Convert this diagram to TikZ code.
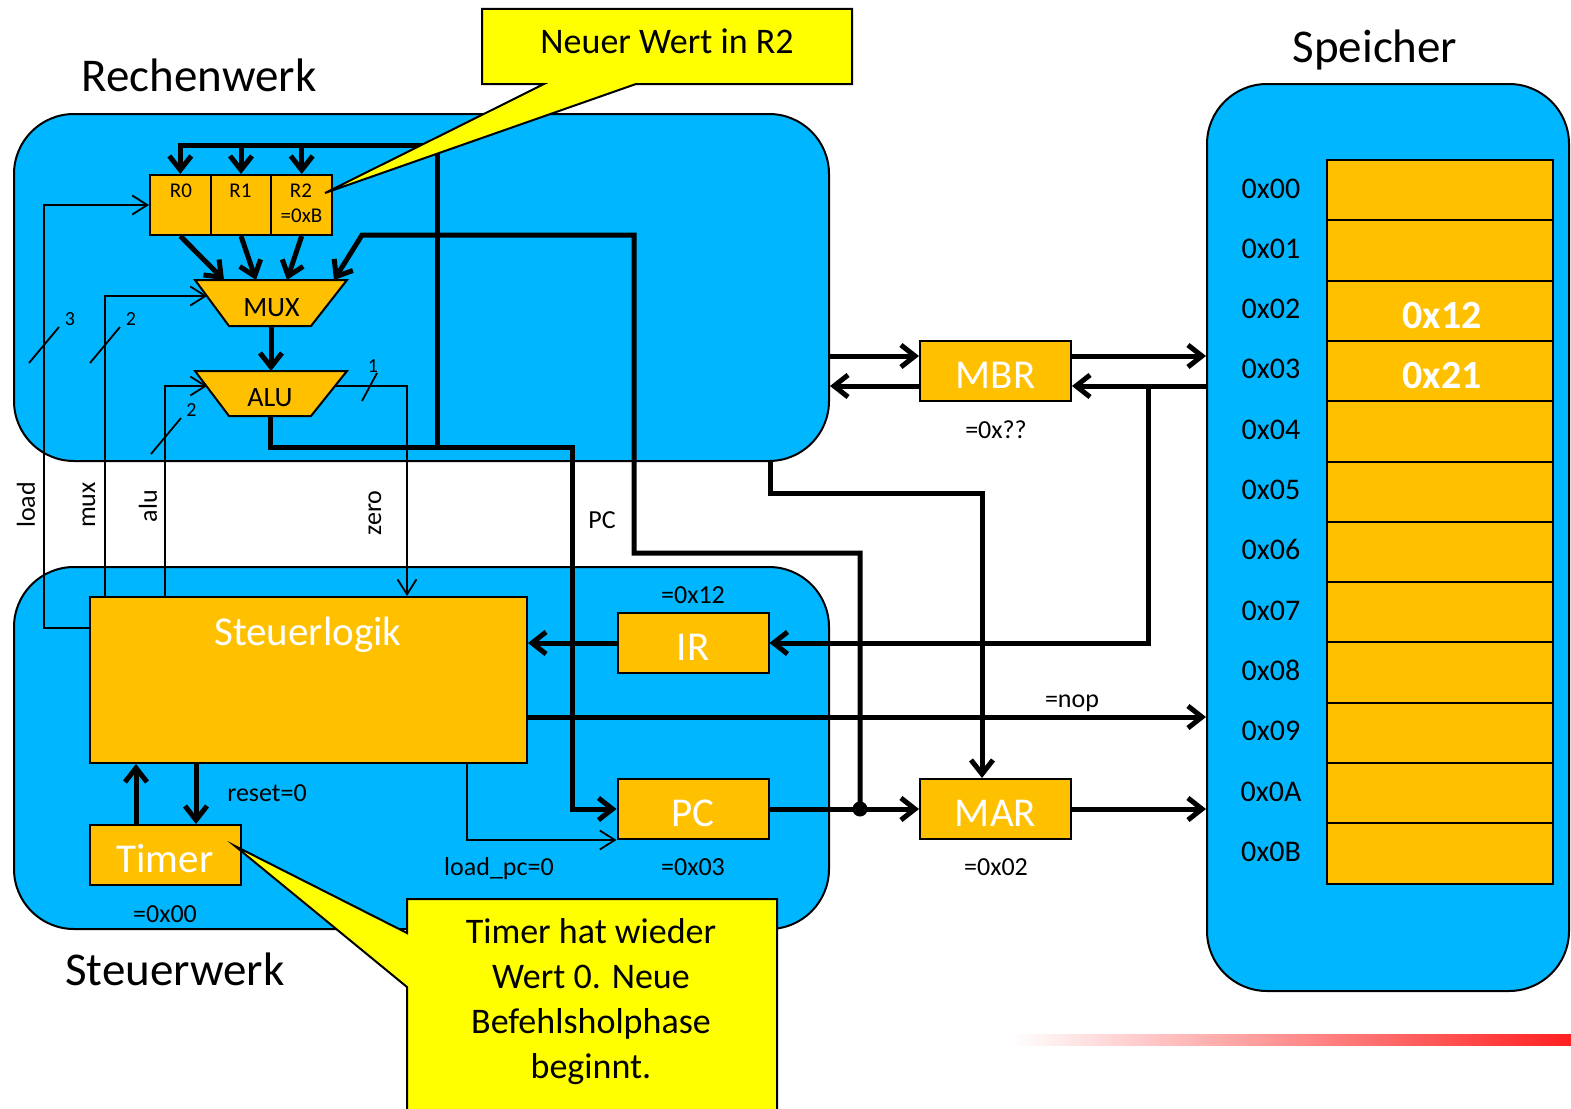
\documentclass[tikz,border=0pt]{standalone}
\usepackage{fontspec}
\setmainfont{Carlito}
\usetikzlibrary{arrows.meta,calc}
\definecolor{BlauWerk}{RGB}{0,183,255}
\definecolor{GoldReg}{RGB}{255,192,0}
\definecolor{GelbNotiz}{RGB}{255,255,0}
\definecolor{RotLinie}{RGB}{255,32,32}
\newcommand{\pxfont}[2]{\fontsize{#1}{#2}\selectfont}

\begin{document}
\begin{tikzpicture}[x=1pt,y=-1pt,>={Straight Barb[length=14pt,width=22pt]},
    werk/.style={draw=black,line width=2pt,fill=BlauWerk,rounded corners=60pt,inner sep=0pt},
    goldbox/.style={draw=black,line width=2pt,fill=GoldReg,inner sep=0pt,minimum width=151pt,minimum height=60pt,text=white,font=\pxfont{41}{48},text height=34pt,text depth=0pt},
    regzelle/.style={draw=black,line width=2pt,fill=GoldReg,inner sep=0pt,minimum width=60.7pt,minimum height=60pt},
    zelle/.style={draw=black,line width=2pt,fill=GoldReg,inner sep=0pt,minimum width=226pt,minimum height=60.3pt},
    trapez/.style={draw=black,line width=2pt,fill=GoldReg},
    bus/.style={line width=5pt},
    sig/.style={line width=1.8pt},
    sigpfeil/.style={-{Straight Barb[length=15pt,width=19pt]}},
    titel/.style={font=\pxfont{47}{56},anchor=base},
    klein/.style={font=\pxfont{26}{31},anchor=base},
    adr/.style={font=\pxfont{30}{36},anchor=base},
    inhalt/.style={font=\bfseries\pxfont{40}{48},text=white,anchor=base},
    regtext/.style={font=\pxfont{21}{25},anchor=base},
    futext/.style={font=\pxfont{28}{34},anchor=base},
    bits/.style={font=\pxfont{20}{24},anchor=base},
    notiz/.style={draw=black,line width=2pt,fill=GelbNotiz}]

  \fill[white] (0,0) rectangle (1571,1108);
  \useasboundingbox (0,0) rectangle (1571,1108);

  % Rahmen
  \node[werk,minimum width=815pt,minimum height=347pt] (rw) at (421.5,287.5) {};
  \node[werk,minimum width=815pt,minimum height=362pt] (sw) at (421.5,748) {};
  \node[werk,minimum width=362pt,minimum height=907pt] (mem) at (1388,537.5) {};
  \node[titel] (rwtitel) at (199,92) {Rechenwerk};
  \node[titel] (swtitel) at (175,985) {Steuerwerk};
  \node[titel] (memtitel) at (1375,63) {Speicher};

  % Speicher
  \foreach \i/\a in {0/00,1/01,2/02,3/03,4/04,5/05,6/06,7/07,8/08,9/09,10/0A,11/0B}{
    \node[zelle] (m\i) at (1440,190.15+60.3*\i) {};
    \node[adr] (a\i) at (1271,198+60.3*\i) {0x\a};
  }
  \node[inhalt] (w2) at (1442,328) {0x12};
  \node[inhalt] (w3) at (1442,388) {0x21};

  % Register, MUX, ALU
  \node[regzelle] (r0) at (180.3,205) {};
  \node[regzelle] (r1) at (241,205) {};
  \node[regzelle] (r2) at (301.7,205) {};
  \node[regtext] (r0t) at (181,197) {R0};
  \node[regtext] (r1t) at (240.5,197) {R1};
  \node[regtext] (r2t) at (301,197) {R2};
  \node[regtext] (r2w) at (301.5,222) {=0xB};
  \draw[trapez] (195,280) -- (347,280) -- (311,326) -- (229,326) -- cycle;
  \draw[trapez] (195,371) -- (347,371) -- (311,416) -- (229,416) -- cycle;
  \node[futext] (mux) at (271.5,316) {MUX};
  \node[futext] (alu) at (270,406) {ALU};
  \coordinate (muxA) at (224,280);
  \coordinate (muxB) at (256,280);
  \coordinate (muxC) at (287,280);
  \coordinate (muxD) at (334,280);
  \coordinate (muxL) at (207,296);
  \coordinate (muxS) at (271,326);
  \coordinate (aluN) at (271,371);
  \coordinate (aluL) at (207,386);
  \coordinate (aluR) at (336,386);
  \coordinate (aluS) at (270,416);

  % Steuerwerk
  \node[goldbox,minimum width=437pt,minimum height=166pt] (sl) at (308.5,680) {};
  \node[titel,font=\pxfont{41}{48},text=white] (slt) at (308,645) {Steuerlogik};
  \node[goldbox] (ir) at (693,643) {IR};
  \node[goldbox] (pc) at (693,809) {PC};
  \node[goldbox] (timer) at (165,855) {Timer};
  \node[goldbox] (mbr) at (995.5,371) {MBR};
  \node[goldbox] (mar) at (995.5,809) {MAR};

  % Werte
  \node[klein] (irw) at (693,603) {=0x12};
  \node[klein] (pcw) at (693,875) {=0x03};
  \node[klein] (timerw) at (165,922) {=0x00};
  \node[klein] (mbrw) at (996,438) {=0x??};
  \node[klein] (marw) at (996,875) {=0x02};
  \node[klein] (reset) at (267,801) {reset=0};
  \node[klein] (loadpc) at (499,875) {load\_pc=0};
  \node[klein] (nop) at (1072,707) {=nop};
  \node[klein] (pct) at (602,528) {PC};
  \node[klein,anchor=center,rotate=90] (loadt) at (26,505) {load};
  \node[klein,anchor=center,rotate=90] (muxt) at (89,505) {mux};
  \node[klein,anchor=center,rotate=90] (alut) at (148,506) {alu};
  \node[klein,anchor=center,rotate=90] (zerot) at (375,513) {zero};

  % Datenbus im Rechenwerk
  \coordinate (knotA) at (437,447);
  \coordinate (knotB) at (437,145);
  \draw[bus,->] (knotA) -- (knotB) -| (r0.north);
  \draw[bus,->] (knotB -| r1.north) -- (r1.north);
  \draw[bus,->] (knotB -| r2.north) -- (r2.north);
  \draw[bus,->] (r0.south) -- (muxA);
  \draw[bus,->] (r1.south) -- (muxB);
  \draw[bus,->] (r2.south) -- (muxC);
  \draw[bus,->] (muxS) -- (aluN);
  \coordinate (pcknick) at (572,447);
  \draw[bus,->] (aluS) |- (pcknick) |- (pc.west);

  % PC nach MAR und MUX
  \coordinate (pcdot) at (860,809);
  \draw[bus,->] (pc.east) -- (mar.west);
  \draw[bus,->] (pcdot) |- (634,553) |- (362,235) -- (muxD);
  \fill (pcdot) circle (7.5);

  % MBR
  \coordinate (mbrO) at ($(mbr.west)+(0,-15)$);
  \coordinate (mbrU) at ($(mbr.west)+(0,15)$);
  \coordinate (mbrOR) at ($(mbr.east)+(0,-15)$);
  \coordinate (mbrUR) at ($(mbr.east)+(0,15)$);
  \coordinate (irknick) at (1148,386);
  \draw[bus,->] (rw.east |- mbrO) -- (mbrO);
  \draw[bus,->] (mbrU) -- (rw.east |- mbrU);
  \draw[bus,->] (mbrOR) -- (mem.west |- mbrOR);
  \draw[bus,->] (mem.west |- mbrUR) -- (mbrUR);
  \draw[bus,->] (irknick) |- (ir.east);

  % MAR
  \coordinate (rwaus) at (770,461);
  \coordinate (rwknick) at (770,493);
  \coordinate (marN) at ($(mar.north)+(-13.5,0)$);
  \draw[bus,->] (rwaus) -- (rwknick) -| (marN);
  \draw[bus,->] (mar.east) -- (mem.west |- mar.east);

  % Steuerlogik
  \coordinate (nopA) at ($(sl.east)+(0,37)$);
  \coordinate (tmA) at ($(timer.north)+(31,0)$);
  \coordinate (tmB) at ($(timer.north)+(-29,0)$);
  \draw[bus,->] (ir.west) -- (sl.east |- ir.west);
  \draw[bus,->] (nopA) -- (mem.west |- nopA);
  \draw[bus,->] (sl.south -| tmA) -- (tmA);
  \draw[bus,->] (tmB) -- (sl.south -| tmB);

  % Steuersignale
  \coordinate (loadA) at ($(sl.west)+(0,-52)$);
  \coordinate (loadK) at (44,205);
  \coordinate (muxK) at (105,296);
  \coordinate (aluK) at (165,386);
  \coordinate (zeroK) at (407,386);
  \coordinate (lpcA) at ($(sl.south)+(158.5,0)$);
  \draw[sig,sigpfeil] (loadA) -| (loadK) -- (r0.west);
  \draw[sig,sigpfeil] (sl.north -| muxK) -- (muxK) -- (muxL);
  \draw[sig,sigpfeil] (sl.north -| aluK) -- (aluK) -- (aluL);
  \draw[sig,sigpfeil] (aluR) -- (zeroK) -- (sl.north -| zeroK);
  \draw[sig,sigpfeil] (lpcA) |- (pc.south west);

  % Bitbreiten
  \draw[sig] (29,363) -- (59,327);
  \draw[sig] (90,363) -- (120,327);
  \draw[sig] (151,454) -- (181,418);
  \draw[sig] (362,401) -- (377,373);
  \node[bits] (b3) at (70,325) {3};
  \node[bits] (b2m) at (131,325) {2};
  \node[bits] (b2a) at (191.5,416) {2};
  \node[bits] (b1) at (373,372) {1};

  % Notizen
  \draw[notiz] (482,9) -- (852,9) -- (852,84) -- (636,84) -- (325,193) -- (544,84) -- (482,84) -- cycle;
  \node[font=\pxfont{36}{45},anchor=base] (notizR) at (667,53) {Neuer Wert in R2};
  \draw[notiz] (407,899) -- (777,899) -- (777,1114) -- (407,1114) -- (407,987) -- (235,846) -- (407,933) -- cycle;
  \node[font=\pxfont{36}{45},align=center] (notizT) at (591,1002) {Timer hat wieder\\Wert 0. Neue\\Befehlsholphase\\beginnt.};

  % Linie
  \shade[left color=white,right color=RotLinie] (1010,1034) rectangle (1571,1045);
\end{tikzpicture}
\end{document}
